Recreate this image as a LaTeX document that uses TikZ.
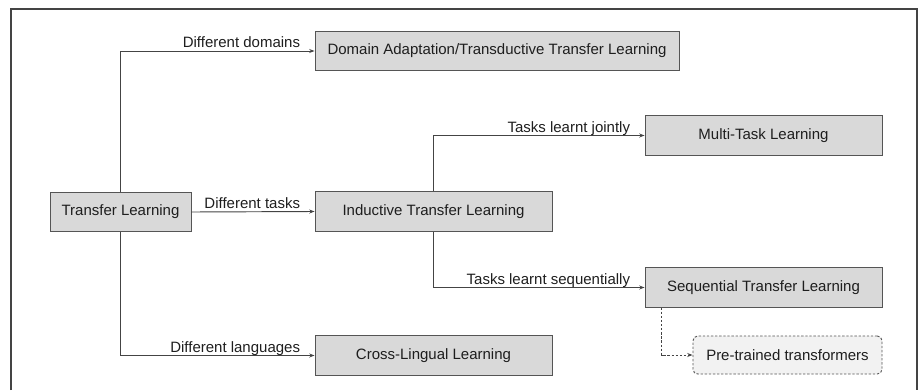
\documentclass[tikz,border=0pt]{standalone}
\usepackage{fontspec}
\setmainfont{Liberation Sans}
\usetikzlibrary{arrows.meta}
\definecolor{boxfill}{HTML}{D9D9D9}
\definecolor{boxline}{HTML}{555555}
\definecolor{linecol}{HTML}{444444}
\definecolor{textcol}{HTML}{1E1E1E}
\definecolor{softfill}{HTML}{F2F2F2}
\begin{document}
\begin{tikzpicture}[x=0.03cm,y=-0.03cm,
        every node/.style={text=textcol,font=\fontsize{12.8}{15}\selectfont},
        box/.style={draw=boxline,fill=boxfill,line width=0.8pt,inner sep=0pt,minimum height=1.18cm},
        softbox/.style={draw=boxline,fill=softfill,line width=0.8pt,dash pattern=on 2pt off 1.5pt,rounded corners=4pt,inner sep=0pt,minimum height=1.14cm},
        link/.style={draw=linecol,line width=0.8pt,-{Stealth[length=0.16cm,width=0.12cm]}},
        lbl/.style={anchor=base east,inner sep=0pt,xshift=-0.42cm,yshift=0.1cm}]
    \useasboundingbox (0,0) rectangle (920,390);
    % frame
    \draw[draw=linecol,line width=1.3pt] (11,390) -- (11,9) -- (917,9) -- (917,390);
    % boxes
    \node[box,minimum width=4.23cm] (tl) at (120.5,212) {Transfer Learning};
    \node[box,minimum width=10.92cm] (da) at (497,51) {Domain Adaptation/Transductive Transfer Learning};
    \node[box,minimum width=7.11cm] (itl) at (433.5,211.5) {Inductive Transfer Learning};
    \node[box,minimum width=7.11cm] (cll) at (433.5,355.5) {Cross-Lingual Learning};
    \node[box,minimum width=7.11cm] (mtl) at (763.5,135.5) {Multi-Task Learning};
    \node[box,minimum width=7.11cm] (stl) at (763.5,287.5) {Sequential Transfer Learning};
    \node[softbox,minimum width=5.67cm] (ptt) at (787.5,355) {Pre-trained transformers};
    \coordinate (stlfoot) at ([xshift=0.51cm]stl.south west);
    % connectors
    \path[link] (tl.north) |- (da.west) node[lbl,pos=1] {Different domains};
    \path[link] (tl.east) -- (itl.west) node[lbl,pos=1] {Different tasks};
    \path[link] (tl.south) |- (cll.west) node[lbl,pos=1] {Different languages};
    \path[link] (itl.north) |- (mtl.west) node[lbl,pos=1] {Tasks learnt jointly};
    \path[link] (itl.south) |- (stl.west) node[lbl,pos=1] {Tasks learnt sequentially};
    \path[link,dash pattern=on 2pt off 1.5pt] (stlfoot) |- (ptt.west);
\end{tikzpicture}
\end{document}
